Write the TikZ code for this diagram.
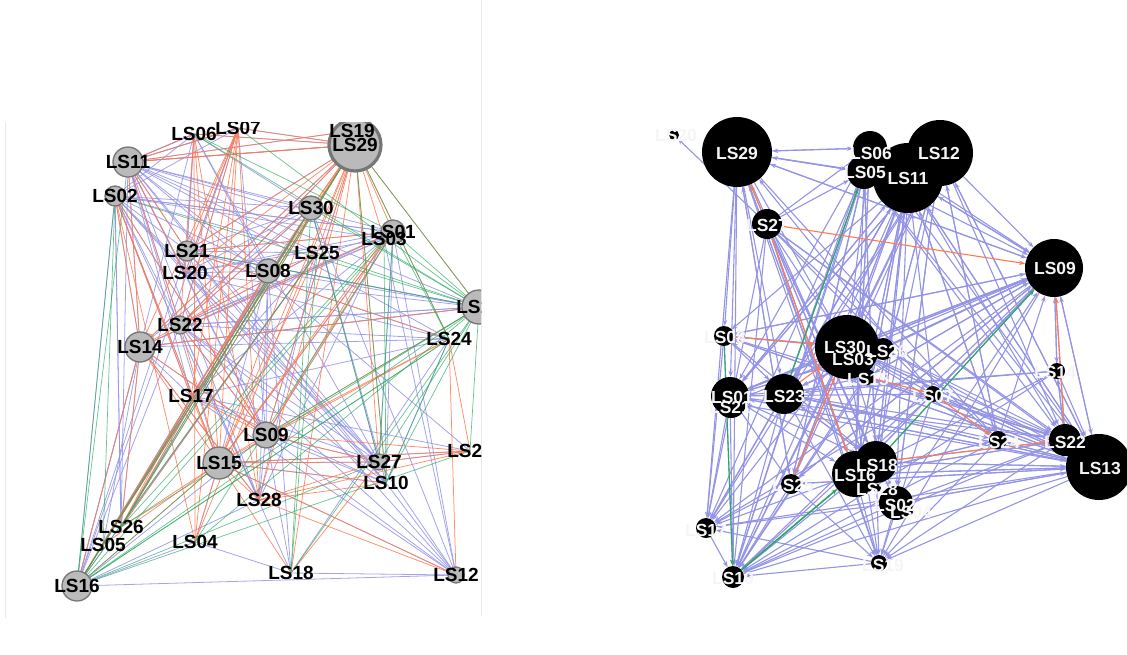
\documentclass[tikz,border=0pt]{standalone}
\usepackage{fontspec}
\setmainfont{Liberation Sans}
\usetikzlibrary{positioning,arrows.meta}
\definecolor{lavender}{RGB}{148,148,230}
\definecolor{coral}{RGB}{255,122,78}
\definecolor{leaf}{RGB}{40,170,95}
\definecolor{disc}{RGB}{186,186,186}
\definecolor{rim}{RGB}{118,118,118}
\pgfdeclarelayer{edges}
\pgfsetlayers{edges,main}

\begin{document}
\begin{tikzpicture}[x=1pt,y=-1pt,>={Stealth[length=6pt,width=4.5pt]},
    lav/.style={draw=lavender,line width=0.8pt,opacity=0.85},
    ora/.style={draw=coral,line width=0.75pt,opacity=0.85},
    grn/.style={draw=leaf,line width=0.7pt,opacity=0.7},
    gdisc/.style={fill=disc,draw=rim,line width=1.3pt},
    glab/.style={font=\fontsize{19}{20}\selectfont\bfseries,inner sep=0pt},
    bnode/.style={circle,fill=black,inner sep=0pt},
    wlab/.style={font=\fontsize{17.5}{19}\selectfont\bfseries,text=gray!8,inner sep=0pt},
    rlav/.style={->,draw=lavender,line width=1.1pt},
    rora/.style={->,draw=coral,line width=1.1pt},
    rgrn/.style={->,draw=leaf,line width=1.1pt}]
\useasboundingbox (0,0) rectangle (1127,654);

% panel borders
\draw[gray!18,line width=0.6pt] (5,122) -- (5,618);
\draw[gray!18,line width=0.6pt] (481,0) -- (481,616);

%%% left network
\begin{scope}
  \clip (5,122) rectangle (481,616);
  \foreach \n/\x/\y in {11/128/162, 02/115/196, 06/194/134, 07/238/128,
      19/352/131, 29/355/145, 30/311/208, 01/393/232, 03/384/239,
      21/187/251, 20/185/273, 08/268/271, 25/317/253, 13/479/307,
      24/449/339, 22/180/325, 14/140/347, 17/191/396, 09/266/435,
      15/219/463, 27/379/462, 10/386/483, 23/470/451, 28/259/500,
      26/121/527, 05/103/545, 04/195/542, 16/77/586, 18/291/573, 12/456/575}
    \coordinate (l\n) at (\x,\y);

  % lavender links
  \foreach \s/\tl in {11/{30,01,03,25,13,08,24,09,27,10,21,20,22,14,17,15,28,23,06,07,19,29},
      02/{21,20,22,14,15,17,08,26,16,28,09,25,01,27,10,30,03},
      06/{11,02,21,14,30,08,27,20}, 07/{11,02,22,09,16,20},
      29/{11,06,07,22,14,09,21}, 30/{21,20,14,22,17,26,05,16,27,12,10},
      01/{21,20,22,14,17,09,15,27,10,12,08,02}, 03/{20,14,22,28,12},
      21/{08,25,24,13,09,27,10}, 20/{08,13,24,27,12,09},
      22/{25,13,24,09,28,27,10,18,12}, 14/{13,24,09,26,05,16,28,17},
      08/{26,16,05,28,18,09,15}, 25/{17,26,28,16}, 09/{27,10,18,12,28},
      15/{27,10,12,23}, 16/{14,22,21,04,28,09,12}, 18/{12},
      17/{27,10,12,23,24}, 27/{12,23}, 10/{12}, 24/{10,18},
      13/{08,22,21,14}, 26/{02,11}, 04/{15,18}}
    {\foreach \t in \tl \draw[lav] (l\s) -- (l\t);}

  % orange links
  \foreach \s/\tl in {29/{11,07,06,30,25,08,15,09,27,10,03,01,24,13,17,28,18,14,22,21,20,16,26,05,04},
      11/{07,06,29,19,21,20,22,14}, 07/{22,14,21,20,15,28,17,04},
      06/{15,28,22,04}, 02/{17,14,15,04,09}, 14/{22,15,28,09,01,13,16,26},
      22/{30,25,08,15,09},
      15/{30,25,01,03,13,24,27,10,23,26,05,16,04,18,12,28},
      09/{01,03,27,23,24}, 17/{15,09,26}, 28/{27,10,12,23},
      16/{29,30,08}, 24/{23,12}, 27/{23,18}, 26/{08,25}, 21/{01,24}}
    {\foreach \t in \tl \draw[ora] (l\s) -- (l\t);}
  \draw[ora] (l15) .. controls +(4,-32) and +(32,-4) .. (l15);
  \draw[ora] (l14) .. controls +(4,-28) and +(28,-4) .. (l14);

  % green links
  \foreach \s/\tl in {11/{16}, 02/{16,05,13}, 06/{13,01}, 07/{13},
      29/{13,24,16,26,10}, 30/{16,26,27,18,13},
      01/{13,24,27,16,04}, 03/{26,10}, 25/{13,16,18},
      21/{13}, 13/{16,04,26,27,10,23,09,18},
      16/{15,23,24,27}, 24/{16,10}}
    {\foreach \t in \tl \draw[grn] (l\s) -- (l\t);}

  % discs
  \foreach \n/\r in {11/15, 02/10, 30/12, 01/12, 21/10, 08/12, 13/17,
      22/9, 14/15, 09/13, 15/16, 27/8, 16/15, 12/8}
    \draw[gdisc] (l\n) circle[radius=\r pt];
  \draw[fill=disc,draw=rim,line width=3.2pt] (l29) circle[radius=26pt];

  \foreach \n in {11,02,06,07,19,29,30,01,03,21,20,08,25,13,24,22,14,
      17,09,15,27,10,23,28,26,05,04,16,18,12}
    \node[glab] (tl\n) at (l\n) {LS\n};
\end{scope}

%%% right network
\foreach \n/\x/\y/\d in {20/674/135/10, 29/737/152/70, 06/870/148/34,
    05/864/172/34, 12/940/153/66, 11/908/178/70, 27/767/224/30,
    09/1054/268/58, 08/724/336/20, 30/847/347/64, 26/883/349/22,
    03/853/359/4, 15/867/377/16, 07/933/394/16, 14/1057/371/16,
    01/730/396/38, 21/731/403/30, 23/784/394/40, 24/998/440/18,
    22/1065/440/32, 13/1099/467/66, 18/876/462/42, 16/855/474/46,
    28/877/488/8, 02/896/503/34, 04/910/512/6, 25/791/484/20,
    17/706/528/20, 19/879/563/16, 10/733/577/22}
  \node[bnode,minimum size=\d pt] (r\n) at (\x,\y) {};

\begin{pgfonlayer}{edges}
  \foreach \s/\tl in {13/{10,17,25,19,02,16,18,24,07,23,01,15,30,11,12,09,08,21},
      09/{10,17,16,23,01,30,11,29,15,07,13,14,25,19,08,21},
      12/{09,13,10,17,16,23,30,01,24,22,02,25},
      11/{09,10,17,16,18,23,01,30,24,22,13,02,25,08,28,15},
      29/{06,05,10,17,01,08,23,16,18,30,09,11,24,19,25,28},
      06/{29,10,23,01,16,30,09,13,25},
      05/{29,10,17,25,23,16,18,13,22,09},
      27/{20,06,05,10,17,16,18,30,07,24,22,13,02,19,28},
      08/{10,17,30,23,09,13,22,26},
      30/{10,17,25,19,13,22,09,24,01,02,07},
      01/{10,17,25,18,16,30,13,22,09,11,12,07,26},
      23/{10,17,09,13,22,24,18,19,11,15},
      16/{10,17,19,13,22,09,11,12,06,29,24},
      18/{10,19,13,22,09,11,12,05,08,23},
      02/{10,19,17,13,22,09,12}, 25/{10,17,13,19,09,11,29},
      24/{10,19,16,13,09,11,12}, 22/{10,19,16,13,09,14},
      14/{13,09,22,10,16,01,23}, 07/{10,19,17,13,22,09,11,29},
      15/{10,13,22,09,11}, 26/{10,13,22,09,23,01},
      17/{10}, 19/{10,17}}
    {\foreach \t in \tl \draw[rlav] (r\s) -- (r\t);}

  % orange links
  \draw[rora] (r27) -- (r09);
  \draw[rora] (r27) -- (r29);
  \draw[rora] (r27) -- (r16);
  \draw[rora] (r25) -- (r30);
  \draw[rora] (r08) -- (r30);
  \draw[rora] (r23) -- (r30);
  \draw[rora] (r15) -- (r07);
  \draw[rora] (r07) -- (r24);
  \draw[rora] (r18) -- (r22);
  \draw[rora] (r22) -- (r09);

  % green links
  \draw[rgrn] (r23) -- (r05);
  \draw[rgrn] (r08) -- (r10);
  \draw[rgrn,line width=1.5pt] (r10) -- (r16);
  \draw[rgrn] (r18) -- (r09);
\end{pgfonlayer}

\foreach \n/\x/\y in {20/676/135, 29/737/153, 06/871/153, 05/865/172,
    12/939/153, 11/908/178, 27/767/225, 09/1055/268, 08/725/337,
    30/845/347, 26/887/351, 03/853/359, 15/868/379, 07/933/396,
    14/1055/372, 01/732/397, 21/730/407, 23/784/396, 24/999/442,
    22/1065/442, 13/1100/468, 18/877/465, 16/855/475, 28/877/489,
    02/895/505, 04/911/512, 25/793/485, 17/706/530, 19/883/565, 10/733/578}
  \node[wlab] (tr\n) at (\x,\y) {LS\n};
\end{tikzpicture}
\end{document}
